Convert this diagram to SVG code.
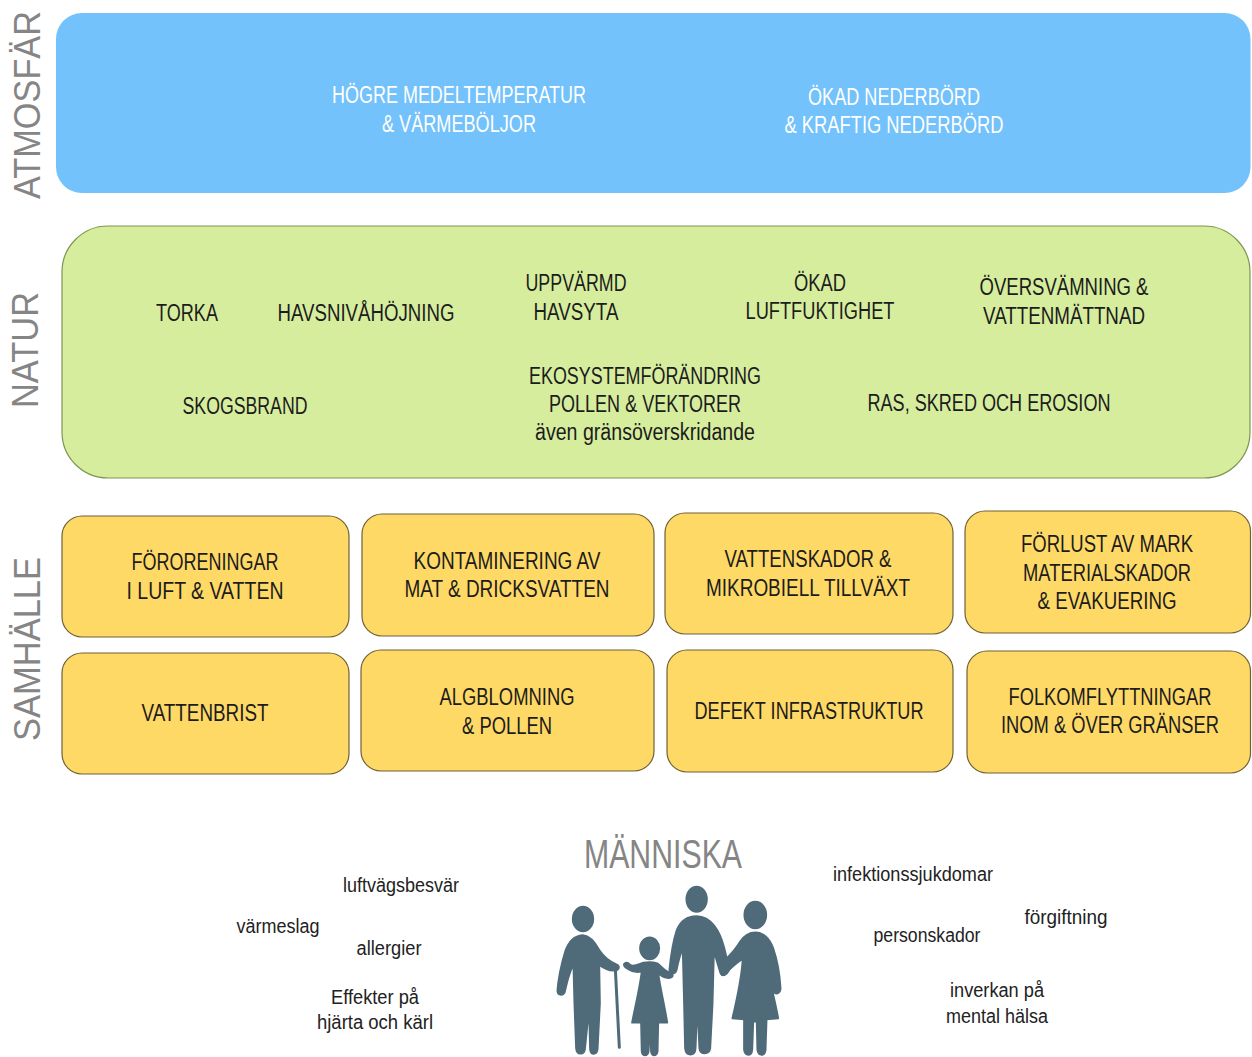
<svg xmlns="http://www.w3.org/2000/svg" width="1252" height="1057" viewBox="0 0 1252 1057">
<style>
text{font-family:"Liberation Sans",Arial,sans-serif;text-anchor:middle}
.t{font-size:23px;fill:#1c1c1c}
.w{font-size:23px;fill:#fff}
.s{font-size:20px;fill:#222}
.side{font-size:36px;fill:#858585}
.y{fill:#ffd966;stroke:#6f6237;stroke-width:1.2}
.fig{fill:#4f6b7a;stroke:#4f6b7a;stroke-width:5;stroke-linejoin:round}
</style>
<rect width="1252" height="1057" fill="#fff"/>
<g id="label-atmosfar"><text class="side" transform="translate(39.5,105) rotate(-90)" textLength="188" lengthAdjust="spacingAndGlyphs">ATMOSFÄR</text></g>
<g id="label-natur"><text class="side" transform="translate(38,350) rotate(-90)" textLength="116" lengthAdjust="spacingAndGlyphs">NATUR</text></g>
<g id="label-samhalle"><text class="side" transform="translate(40,649) rotate(-90)" textLength="184" lengthAdjust="spacingAndGlyphs">SAMHÄLLE</text></g>
<g id="atmosfar">
<rect x="56" y="13" width="1194.500" height="180" rx="26" fill="#73c2fb"/>
<text class="w" x="459" y="103" textLength="254" lengthAdjust="spacingAndGlyphs">HÖGRE MEDELTEMPERATUR</text>
<text class="w" x="459" y="132" textLength="154" lengthAdjust="spacingAndGlyphs">&amp; VÄRMEBÖLJOR</text>
<text class="w" x="894" y="105" textLength="172" lengthAdjust="spacingAndGlyphs">ÖKAD NEDERBÖRD</text>
<text class="w" x="894" y="133" textLength="219" lengthAdjust="spacingAndGlyphs">&amp; KRAFTIG NEDERBÖRD</text>
</g>
<g id="natur">
<rect x="62" y="226" width="1188" height="252" rx="46" fill="#d6ed9e" stroke="#7d9650" stroke-width="1.2"/>
<text class="t" x="187" y="321" textLength="62" lengthAdjust="spacingAndGlyphs">TORKA</text>
<text class="t" x="366" y="321" textLength="177" lengthAdjust="spacingAndGlyphs">HAVSNIVÅHÖJNING</text>
<text class="t" x="576" y="291" textLength="101" lengthAdjust="spacingAndGlyphs">UPPVÄRMD</text>
<text class="t" x="576" y="320" textLength="85" lengthAdjust="spacingAndGlyphs">HAVSYTA</text>
<text class="t" x="820" y="291" textLength="52" lengthAdjust="spacingAndGlyphs">ÖKAD</text>
<text class="t" x="820" y="319" textLength="149" lengthAdjust="spacingAndGlyphs">LUFTFUKTIGHET</text>
<text class="t" x="1064" y="295" textLength="169" lengthAdjust="spacingAndGlyphs">ÖVERSVÄMNING &amp;</text>
<text class="t" x="1064" y="324" textLength="162" lengthAdjust="spacingAndGlyphs">VATTENMÄTTNAD</text>
<text class="t" x="245" y="414" textLength="125" lengthAdjust="spacingAndGlyphs">SKOGSBRAND</text>
<text class="t" x="645" y="384" textLength="232" lengthAdjust="spacingAndGlyphs">EKOSYSTEMFÖRÄNDRING</text>
<text class="t" x="645" y="412" textLength="192" lengthAdjust="spacingAndGlyphs">POLLEN &amp; VEKTORER</text>
<text class="t" x="645" y="440" textLength="220" lengthAdjust="spacingAndGlyphs">även gränsöverskridande</text>
<text class="t" x="989" y="411" textLength="243" lengthAdjust="spacingAndGlyphs">RAS, SKRED OCH EROSION</text>
</g>
<g id="fororeningar"><rect class="y" x="62" y="516" width="287" height="121" rx="20"/>
<text class="t" x="205" y="570" textLength="147" lengthAdjust="spacingAndGlyphs">FÖRORENINGAR</text>
<text class="t" x="205" y="599" textLength="157" lengthAdjust="spacingAndGlyphs">I LUFT &amp; VATTEN</text></g>
<g id="kontaminering"><rect class="y" x="362" y="514" width="292" height="122" rx="20"/>
<text class="t" x="507" y="569" textLength="187" lengthAdjust="spacingAndGlyphs">KONTAMINERING AV</text>
<text class="t" x="507" y="597" textLength="205" lengthAdjust="spacingAndGlyphs">MAT &amp; DRICKSVATTEN</text></g>
<g id="vattenskador"><rect class="y" x="665" y="513" width="288" height="121" rx="20"/>
<text class="t" x="808" y="567" textLength="167" lengthAdjust="spacingAndGlyphs">VATTENSKADOR &amp;</text>
<text class="t" x="808" y="596" textLength="204" lengthAdjust="spacingAndGlyphs">MIKROBIELL TILLVÄXT</text></g>
<g id="forlust"><rect class="y" x="965" y="511" width="285.500" height="122" rx="20"/>
<text class="t" x="1107" y="552" textLength="172" lengthAdjust="spacingAndGlyphs">FÖRLUST AV MARK</text>
<text class="t" x="1107" y="581" textLength="168" lengthAdjust="spacingAndGlyphs">MATERIALSKADOR</text>
<text class="t" x="1107" y="609" textLength="139" lengthAdjust="spacingAndGlyphs">&amp; EVAKUERING</text></g>
<g id="vattenbrist"><rect class="y" x="62" y="653" width="287" height="121" rx="20"/>
<text class="t" x="205" y="721" textLength="127" lengthAdjust="spacingAndGlyphs">VATTENBRIST</text></g>
<g id="algblomning"><rect class="y" x="361" y="650" width="293" height="121" rx="20"/>
<text class="t" x="507" y="705" textLength="135" lengthAdjust="spacingAndGlyphs">ALGBLOMNING</text>
<text class="t" x="507" y="734" textLength="90" lengthAdjust="spacingAndGlyphs">&amp; POLLEN</text></g>
<g id="infrastruktur"><rect class="y" x="667" y="650" width="286" height="122" rx="20"/>
<text class="t" x="809" y="719" textLength="229" lengthAdjust="spacingAndGlyphs">DEFEKT INFRASTRUKTUR</text></g>
<g id="folkomflyttningar"><rect class="y" x="967" y="651" width="283.500" height="122" rx="20"/>
<text class="t" x="1110" y="705" textLength="203" lengthAdjust="spacingAndGlyphs">FOLKOMFLYTTNINGAR</text>
<text class="t" x="1110" y="733" textLength="218" lengthAdjust="spacingAndGlyphs">INOM &amp; ÖVER GRÄNSER</text></g>
<g id="manniska">
<text x="663" y="868" font-size="40" fill="#858585" textLength="158" lengthAdjust="spacingAndGlyphs">MÄNNISKA</text>
<g class="fig" transform="translate(540,870) scale(0.3333)">
<ellipse cx="129" cy="147" rx="31" ry="37"/>
<path d="M128 195C100 197 85 215 75 245C66 275 55 320 52 362C52 375 68 380 74 368C80 345 85 315 100 285L103 400L108 535C110 556 132 556 135 538L147 420L150 538C152 556 170 556 173 538L180 400L178 285C195 298 215 305 232 300C240 295 238 285 228 282C210 275 195 265 178 240C165 215 150 197 128 195Z"/>
<path d="M226 295L238 532" stroke-width="9" stroke-linecap="round" fill="none"/>
<ellipse cx="329" cy="235" rx="29" ry="33"/>
<path d="M252 282C256 276 265 276 270 284C278 293 295 283 310 278C325 275 340 276 352 280C365 288 375 305 395 310C403 318 395 326 382 324C370 322 360 315 355 310C362 360 375 410 382 458L355 458L353 545C350 560 335 560 333 545L330 470L326 545C323 560 307 560 305 545L303 458L276 458C285 410 298 360 305 305C290 308 275 305 265 298C258 295 250 290 252 282Z"/>
<ellipse cx="470" cy="88" rx="31" ry="38"/>
<path d="M470 138C440 138 420 155 410 180C400 210 392 260 388 300C388 315 405 315 410 300C415 275 420 255 428 238L432 400L435 535C438 560 465 560 467 535L472 410L478 535C480 555 508 555 511 535L518 400L522 245C528 265 535 290 540 305C545 320 558 320 560 300C565 280 560 260 552 230C540 185 515 138 470 138Z"/>
<ellipse cx="646" cy="135" rx="33" ry="40"/>
<path d="M646 187C625 187 610 200 600 215C590 232 570 255 555 270C545 285 538 300 542 310C548 322 560 315 568 300C580 288 595 275 608 268C604 330 590 390 577 445L612 448L612 540C615 560 635 560 637 540L640 455L650 455L652 540C655 560 675 560 677 540L680 448L715 445C705 390 690 340 685 285C692 310 698 340 700 362C705 376 722 372 722 355C720 320 712 270 700 235C690 205 670 187 646 187Z"/>
</g>
</g>
<g id="effekter">
<text class="s" x="401" y="892" textLength="116" lengthAdjust="spacingAndGlyphs">luftvägsbesvär</text>
<text class="s" x="278" y="933" textLength="83" lengthAdjust="spacingAndGlyphs">värmeslag</text>
<text class="s" x="389" y="955" textLength="65" lengthAdjust="spacingAndGlyphs">allergier</text>
<text class="s" x="375" y="1004" textLength="88" lengthAdjust="spacingAndGlyphs">Effekter på</text>
<text class="s" x="375" y="1029" textLength="116" lengthAdjust="spacingAndGlyphs">hjärta och kärl</text>
<text class="s" x="913" y="881" textLength="160" lengthAdjust="spacingAndGlyphs">infektionssjukdomar</text>
<text class="s" x="1066" y="924" textLength="83" lengthAdjust="spacingAndGlyphs">förgiftning</text>
<text class="s" x="927" y="942" textLength="107" lengthAdjust="spacingAndGlyphs">personskador</text>
<text class="s" x="997" y="997" textLength="94" lengthAdjust="spacingAndGlyphs">inverkan på</text>
<text class="s" x="997" y="1023" textLength="102" lengthAdjust="spacingAndGlyphs">mental hälsa</text>
</g>
</svg>
